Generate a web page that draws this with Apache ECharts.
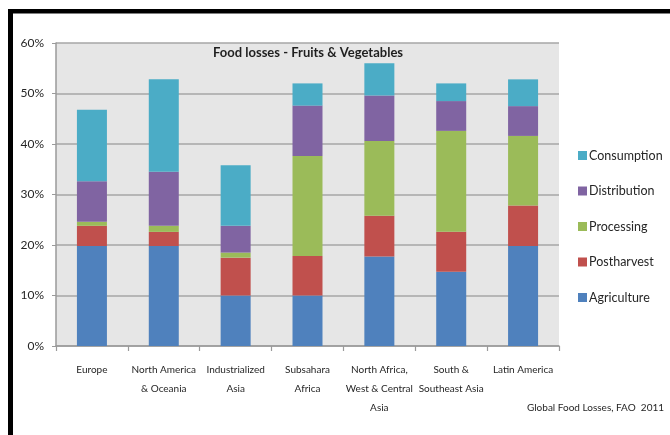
<!DOCTYPE html>
<html>
<head>
<meta charset="utf-8">
<script src="https://cdn.jsdelivr.net/npm/echarts@6/dist/echarts.min.js"></script>
<style>
  html, body { margin: 0; padding: 0; background: #ffffff; }
  #chart { width: 670px; height: 435px; }
</style>
</head>
<body>
<div id="chart"></div>
<script>
// Regions along the category axis
const regions = [
  'Europe',
  'North America\n& Oceania',
  'Industrialized\nAsia',
  'Subsahara\nAfrica',
  'North Africa,\nWest & Central\nAsia',
  'South &\nSoutheast Asia',
  'Latin America'
];

// Share of production lost at each stage (percent), stacked bottom to top
const agriculture  = [19.8, 19.8, 10.0, 10.0, 17.7, 14.7, 19.8];
const postharvest  = [ 4.0,  2.8,  7.5,  7.8,  8.1,  7.9,  8.0];
const processing   = [ 0.8,  1.2,  1.0, 19.8, 14.8, 20.0, 13.8];
const distribution = [ 8.0, 10.7,  5.3, 10.0,  9.0,  5.9,  5.9];
const consumption  = [14.2, 18.3, 12.0,  4.4,  6.4,  3.5,  5.3];

// Percent axis ticks
const yMin = 0, yMax = 60, yStep = 10;

const chartFont = 'Lato, "Open Sans", sans-serif';
const textColor = '#262626';

const colors = {
  Agriculture: '#4F81BD',
  Postharvest: '#C0504D',
  Processing: '#9BBB59',
  Distribution: '#8064A2',
  Consumption: '#4BACC6'
};

const stages = [
  ['Agriculture', agriculture],
  ['Postharvest', postharvest],
  ['Processing', processing],
  ['Distribution', distribution],
  ['Consumption', consumption]
];

const chart = echarts.init(document.getElementById('chart'), null, { renderer: 'canvas' });

chart.setOption({
  animation: false,
  textStyle: { fontFamily: chartFont, color: textColor },
  title: [
    {
      text: 'Food losses - Fruits & Vegetables',
      left: 213,
      top: 46,
      padding: 0,
      textStyle: { fontFamily: chartFont, fontSize: 13, fontWeight: 'bold', color: '#1f1f1f' }
    },
    {
      text: 'Global Food Losses, FAO  2011',
      left: 527,
      top: 403,
      padding: 0,
      textStyle: { fontFamily: chartFont, fontSize: 10, fontWeight: 'normal', color: textColor }
    }
  ],
  legend: {
    orient: 'vertical',
    left: 578,
    top: 149,
    padding: 0,
    icon: 'rect',
    itemWidth: 9,
    itemHeight: 9,
    itemGap: 22.5,
    data: ['Consumption', 'Distribution', 'Processing', 'Postharvest', 'Agriculture'],
    textStyle: { fontFamily: chartFont, fontSize: 12.5, color: textColor, padding: [0, 0, 0, -3] }
  },
  grid: {
    left: 56,
    right: 111,
    top: 43,
    bottom: 89,
    show: true,
    backgroundColor: '#e6e6e6',
    borderWidth: 0
  },
  xAxis: {
    type: 'category',
    data: regions,
    axisLine: { show: true, lineStyle: { color: '#9a9a9a', width: 1.5 } },
    axisTick: { show: true, alignWithLabel: false, length: 5, lineStyle: { color: '#9a9a9a', width: 1.2 } },
    axisLabel: {
      interval: 0,
      margin: 14,
      fontFamily: chartFont,
      fontSize: 10,
      lineHeight: 19,
      color: textColor
    }
  },
  yAxis: {
    type: 'value',
    min: yMin,
    max: yMax,
    interval: yStep,
    axisLine: { show: true, lineStyle: { color: '#9a9a9a', width: 1.5 } },
    axisTick: { show: true, length: 4, lineStyle: { color: '#9a9a9a' } },
    axisLabel: {
      formatter: '{value}%',
      margin: 12,
      fontFamily: chartFont,
      fontSize: 12,
      color: textColor
    },
    splitLine: { show: true, lineStyle: { color: '#a6a6a6', width: 1.5 } }
  },
  series: stages.map(([name, values]) => ({
    name: name,
    type: 'bar',
    stack: 'losses',
    barWidth: 30,
    data: values,
    itemStyle: { color: colors[name] }
  })),
  graphic: [
    // frame around the figure (top and left edges)
    { type: 'rect', left: 8, top: 9, shape: { width: 662, height: 4.5 }, style: { fill: '#000000' }, silent: true },
    { type: 'rect', left: 8, top: 9, shape: { width: 5, height: 426 }, style: { fill: '#000000' }, silent: true }
  ]
});
</script>
</body>
</html>
